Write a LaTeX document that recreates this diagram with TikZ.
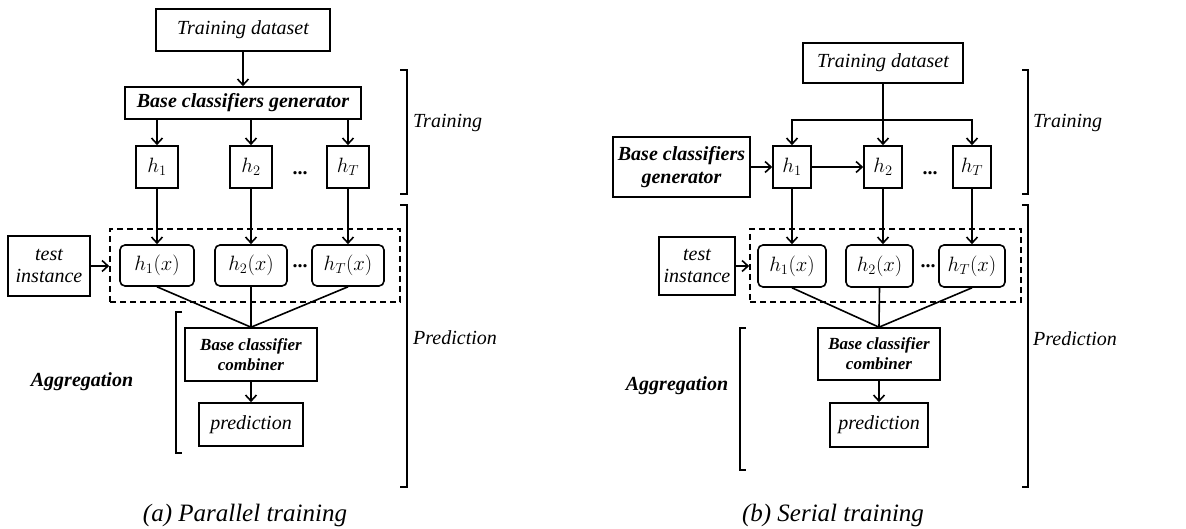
\documentclass[tikz,border=0pt]{standalone}
\usepackage{fontspec}
\setmainfont{Liberation Serif}
\usetikzlibrary{arrows.meta}
\begin{document}
\begin{tikzpicture}[x=1pt,y=-1pt,
 box/.style={draw,line width=1.6pt,inner sep=0pt,align=center,font=\fontsize{20}{22}\selectfont\itshape},
 mbox/.style={box,font=\fontsize{21}{22}\selectfont},
 bbox/.style={box,font=\fontsize{20}{23}\selectfont\bfseries\itshape},
 cbox/.style={box,font=\fontsize{17}{20}\selectfont\bfseries\itshape},
 rbox/.style={mbox,rounded corners=5pt},
 dbox/.style={draw,line width=1.6pt,dashed,dash pattern=on 6pt off 4pt,inner sep=0pt},
 arr/.style={line width=1.6pt,-{Straight Barb[length=6pt,width=11pt,line width=1.6pt]}},
 ln/.style={line width=1.6pt},
 brk/.style={line width=1.6pt},
 lab/.style={font=\fontsize{20}{22}\selectfont\itshape,anchor=west,inner sep=0pt},
 blab/.style={font=\fontsize{20}{22}\selectfont\bfseries\itshape,inner sep=0pt},
 dotstxt/.style={font=\fontsize{20}{22}\selectfont\bfseries,inner sep=0pt},
 captxt/.style={font=\fontsize{25}{27}\selectfont\itshape,inner sep=0pt}]
\useasboundingbox (0,0) rectangle (1186,529);

% ---------- (a) Parallel training ----------
\node[box,minimum width=174pt,minimum height=42pt] (td1) at (243,30) {Training dataset};
\node[bbox,minimum width=236pt,minimum height=32pt] (gen1) at (243,103) {Base classifiers generator};
\node[mbox,minimum width=42pt,minimum height=42pt] (h1a) at (157,167) {$h_1$};
\node[mbox,minimum width=42pt,minimum height=42pt] (h2a) at (251,167) {$h_2$};
\node[mbox,minimum width=42pt,minimum height=42pt] (hTa) at (348,167) {$h_T$};
\node[dotstxt] (d1a) at (300,173) {...};
\node[dbox,minimum width=290pt,minimum height=73pt] (dash1) at (255,265.5) {};
\node[rbox,minimum width=74pt,minimum height=41pt] (hx1a) at (157,265.5) {$h_1(x)$};
\node[rbox,minimum width=72pt,minimum height=41pt] (hx2a) at (251,265.5) {$h_2(x)$};
\node[rbox,minimum width=72pt,minimum height=41pt] (hxTa) at (348,265.5) {$h_T(x)$};
\node[dotstxt] (d2a) at (300,266) {...};
\node[box,minimum width=82pt,minimum height=60pt] (test1) at (49,266) {test\\instance};
\node[cbox,minimum width=132pt,minimum height=53pt] (comb1) at (251,354.5) {Base classifier\\combiner};
\node[box,minimum width=104pt,minimum height=43pt] (pred1) at (251,424.5) {prediction};
\node[blab] (agg1) at (82,382) {Aggregation};
\node[lab] (tr1) at (413,123) {Training};
\node[lab] (pr1) at (413,338) {Prediction};
\node[captxt] (cap1) at (245,515) {(a) Parallel training};

\draw[arr] (td1) -- (gen1);
\foreach \h in {h1a,h2a,hTa}{\draw[arr] (gen1.south -| \h) -- (\h);}
\draw[arr] (h1a) -- (hx1a);
\draw[arr] (h2a) -- (hx2a);
\draw[arr] (hTa) -- (hxTa);
\draw[arr] (test1) -- (test1 -| dash1.west);
\foreach \h in {hx1a,hx2a,hxTa}{\draw[ln] (\h.south) -- (comb1.north);}
\draw[arr] (comb1) -- (pred1);
\draw[brk] (182,312) -- (176,312) -- (176,453) -- (182,453);
\draw[brk] (400,70) -- (407,70) -- (407,194) -- (400,194);
\draw[brk] (400,205) -- (407,205) -- (407,487) -- (400,487);

% ---------- (b) Serial training ----------
\node[box,minimum width=160pt,minimum height=40pt] (td2) at (883,63) {Training dataset};
\coordinate (j2) at (883,120);
\node[bbox,minimum width=137pt,minimum height=60pt] (gen2) at (681.5,167) {Base classifiers\\generator};
\node[mbox,minimum width=38pt,minimum height=42pt] (h1b) at (792,167) {$h_1$};
\node[mbox,minimum width=38pt,minimum height=42pt] (h2b) at (883,167) {$h_2$};
\node[mbox,minimum width=38pt,minimum height=42pt] (hTb) at (972,167) {$h_T$};
\node[dotstxt] (d1b) at (930,173) {...};
\node[dbox,minimum width=271pt,minimum height=73pt] (dash2) at (885.5,265.5) {};
\node[rbox,minimum width=68pt,minimum height=42pt] (hx1b) at (792,266) {$h_1(x)$};
\node[rbox,minimum width=67pt,minimum height=42pt] (hx2b) at (879.5,266) {$h_2(x)$};
\node[rbox,minimum width=66pt,minimum height=42pt] (hxTb) at (972,266) {$h_T(x)$};
\node[dotstxt] (d2b) at (928,266) {...};
\node[box,minimum width=76pt,minimum height=58pt] (test2) at (697,266) {test\\instance};
\node[cbox,minimum width=122pt,minimum height=52pt] (comb2) at (879,354) {Base classifier\\combiner};
\node[box,minimum width=98pt,minimum height=44pt] (pred2) at (879,425) {prediction};
\node[blab] (agg2) at (677,386) {Aggregation};
\node[lab] (tr2) at (1033,123) {Training};
\node[lab] (pr2) at (1033,339) {Prediction};
\node[captxt] (cap2) at (833,515) {(b) Serial training};

\draw[arr] (td2) -- (h2b);
\draw[arr] (j2) -| (h1b);
\draw[arr] (j2) -| (hTb);
\draw[arr] (gen2) -- (h1b);
\draw[arr] (h1b) -- (h2b);
\draw[arr] (h1b) -- (hx1b);
\draw[arr] (h2b.south) -- (h2b.south |- hx2b.north);
\draw[arr] (hTb) -- (hxTb);
\draw[arr] (test2) -- (test2 -| dash2.west);
\foreach \h in {hx1b,hx2b,hxTb}{\draw[ln] (\h.south) -- (comb2.north);}
\draw[arr] (comb2) -- (pred2);
\draw[brk] (746,328) -- (740,328) -- (740,470) -- (746,470);
\draw[brk] (1022,70) -- (1028,70) -- (1028,194) -- (1022,194);
\draw[brk] (1022,205) -- (1028,205) -- (1028,487) -- (1022,487);
\end{tikzpicture}
\end{document}
